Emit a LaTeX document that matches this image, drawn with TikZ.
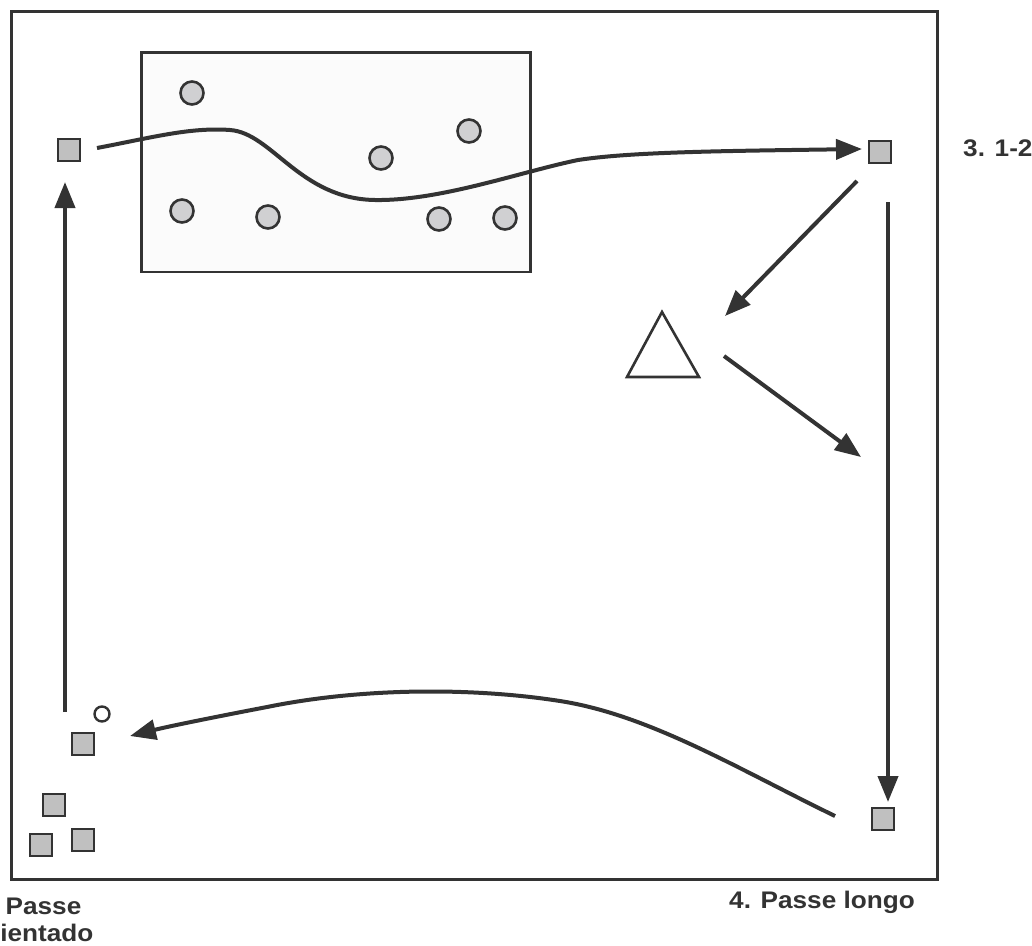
\documentclass[tikz,border=0pt]{standalone}
\usepackage{graphicx}
\usepackage{fontspec}
\setmainfont{Liberation Sans}
\usetikzlibrary{arrows.meta}
\definecolor{ink}{HTML}{333333}
\definecolor{sqfill}{HTML}{C0C0C0}
\definecolor{cifill}{HTML}{D0D0D2}
\definecolor{fieldfill}{HTML}{FBFBFB}
\newcommand{\wlbl}[1]{\scalebox{1.09}[1]{#1}}
\begin{document}
\begin{tikzpicture}[x=1pt,y=-1pt,
  player/.style={draw=ink, fill=sqfill, line width=2.6pt, minimum size=22pt, inner sep=0pt, rectangle},
  cone/.style={draw=ink, fill=cifill, line width=2.6pt, minimum size=23pt, inner sep=0pt, circle},
  ballst/.style={draw=ink, fill=white, line width=2.4pt, minimum size=15pt, inner sep=0pt, circle},
  run/.style={draw=ink, line width=4pt, -{Triangle[length=26pt,width=20pt]}},
  trail/.style={draw=ink, line width=4pt},
  lbl/.style={font=\fontsize{24}{28}\selectfont\bfseries, text=ink, inner sep=0pt, anchor=base west}
]
\useasboundingbox (0,0) rectangle (1032,945);
% field
\draw[ink, line width=3pt] (11.3,11.3) rectangle (937,879.5);
\draw[ink, line width=2.7pt, fill=fieldfill] (141.3,52.3) rectangle (530.3,272);
% cones (circles)
\node[cone] (c1) at (192,93) {};
\node[cone] (c2) at (182,211) {};
\node[cone] (c3) at (268,217) {};
\node[cone] (c4) at (381,158) {};
\node[cone] (c5) at (469,131) {};
\node[cone] (c6) at (439,219) {};
\node[cone] (c7) at (505,218) {};
% players
\node[player] (pA) at (69,150) {};
\node[player] (pB) at (880,152) {};
\node[player] (pC) at (883,819) {};
\node[player] (pD) at (83,744) {};
\node[player] (pE) at (54,805) {};
\node[player] (pF) at (41,845) {};
\node[player] (pG) at (83,840) {};
\node[ballst] (ball) at (102,714) {};
% triangle
\coordinate (tA) at (662,312);
\coordinate (tB) at (627,377);
\coordinate (tC) at (699,377);
\draw[ink, line width=2.6pt, line join=miter, fill=white] (tA) -- (tB) -- (tC) -- cycle;
% connector end points
\coordinate (s1) at (97,148);
\coordinate (e1) at (862,149);
\coordinate (s2) at (857,181);
\coordinate (e2) at (725,316);
\coordinate (s3) at (724,356);
\coordinate (e3) at (861,457);
\coordinate (s4) at (888,202);
\coordinate (e4) at (888,802);
\coordinate (s5) at (835,816);
\coordinate (e5) at (130,736);
\coordinate (s6) at (65,712);
\coordinate (e6) at (65,182);
% dribble through the square
\draw[run] (s1) .. controls (150,138) and (190,127) .. (230,130)
  .. controls (272,133) and (300,199) .. (375,200)
  .. controls (440,201) and (520,172) .. (578,160)
  .. controls (630,152) and (720,151) .. (e1);
\draw[run] (s2) -- (e2);
\draw[run] (s3) -- (e3);
\draw[run] (s4) -- (e4);
\draw[run] (s5) .. controls (740,770) and (650,715) .. (560,701)
  .. controls (470,687) and (360,688) .. (267,707)
  .. controls (220,716) and (170,726) .. (e5);
\draw[run] (s6) -- (e6);
% labels
\node[lbl] (t3) at (963,156) {\wlbl{3. 1-2}};
\node[lbl] (t4) at (729,908) {\wlbl{4. Passe longo}};
\node[lbl] (t2a) at (-26,914) {\wlbl{2. Passe}};
\node[lbl] (t2b) at (-26,941) {\wlbl{orientado}};
\end{tikzpicture}
\end{document}
